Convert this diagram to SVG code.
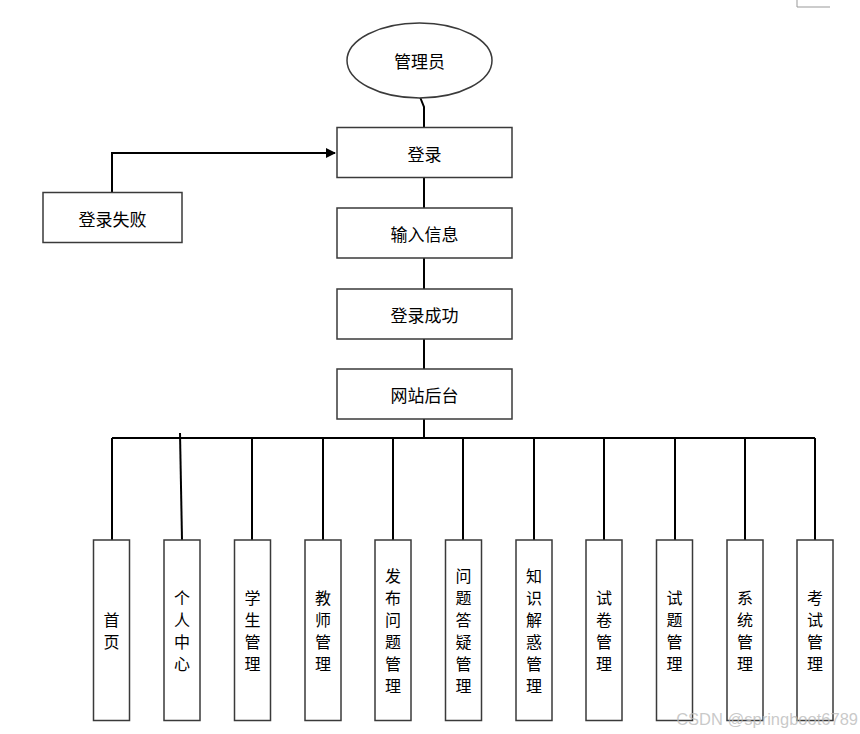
<svg xmlns="http://www.w3.org/2000/svg" width="860" height="734" viewBox="0 0 860 734">
<defs>
<style>
.box{fill:#fff;stroke:#3a3a3a;stroke-width:1.5}
.ln{fill:none;stroke:#000;stroke-width:2}
.t{font-family:"Noto Sans CJK SC","Microsoft YaHei",sans-serif;font-size:16px;fill:#000;text-anchor:middle;dominant-baseline:central}
.tl{font-size:17px}
</style>
<marker id="arr" markerWidth="10" markerHeight="10" refX="9" refY="5" orient="auto" markerUnits="userSpaceOnUse">
<path d="M0,0 L10,5 L0,10 z" fill="#000"/>
</marker>
</defs>
<rect width="860" height="734" fill="#fff"/>
<path d="M797,0 V7 H830" fill="none" stroke="#999" stroke-width="1"/>
<g id="connectors">
<path class="ln" d="M420,97 L424,107 V127"/>
<path class="ln" d="M112,192 V153 H335" marker-end="url(#arr)"/>
<path class="ln" d="M424,177 V208"/>
<path class="ln" d="M424,258 V289"/>
<path class="ln" d="M424,339 V369"/>
<path class="ln" d="M424,419 V438" stroke-width="3"/>
<path class="ln" d="M112,438 H815"/>
<path class="ln" d="M112,438 V540"/>
<path class="ln" d="M180,433 L182,540"/>
<path class="ln" d="M252,438 V540"/>
<path class="ln" d="M323,438 V540"/>
<path class="ln" d="M393,438 V540"/>
<path class="ln" d="M463,438 V540"/>
<path class="ln" d="M534,438 V540"/>
<path class="ln" d="M604,438 V540"/>
<path class="ln" d="M675,438 V540"/>
<path class="ln" d="M745,438 V540"/>
<path class="ln" d="M815,438 V540"/>
</g>
<g id="admin"><ellipse cx="419.5" cy="60.5" rx="72.5" ry="37.5" class="box"/><text class="t tl" x="419.5" y="60.5">管理员</text></g>
<g id="login"><rect class="box" x="337" y="127.5" width="175" height="50"/><text class="t tl" x="424.5" y="153">登录</text></g>
<g id="loginfail"><rect class="box" x="43" y="192.5" width="139" height="50"/><text class="t tl" x="112.5" y="218">登录失败</text></g>
<g id="input"><rect class="box" x="337" y="208" width="175" height="50"/><text class="t tl" x="424.5" y="233">输入信息</text></g>
<g id="success"><rect class="box" x="337" y="289" width="175" height="50"/><text class="t tl" x="424.5" y="314">登录成功</text></g>
<g id="backend"><rect class="box" x="337" y="369" width="175" height="50"/><text class="t tl" x="424.5" y="394">网站后台</text></g>
<g id="m1"><rect class="box" x="93.5" y="540" width="36" height="180.5"/><text class="t"><tspan x="111.5" y="619">首</tspan><tspan x="111.5" y="641">页</tspan></text></g>
<g id="m2"><rect class="box" x="164" y="540" width="36" height="180.5"/><text class="t"><tspan x="182" y="597">个</tspan><tspan x="182" y="619">人</tspan><tspan x="182" y="641">中</tspan><tspan x="182" y="663">心</tspan></text></g>
<g id="m3"><rect class="box" x="234.5" y="540" width="36" height="180.5"/><text class="t"><tspan x="252.5" y="597">学</tspan><tspan x="252.5" y="619">生</tspan><tspan x="252.5" y="641">管</tspan><tspan x="252.5" y="663">理</tspan></text></g>
<g id="m4"><rect class="box" x="305" y="540" width="36" height="180.5"/><text class="t"><tspan x="323" y="597">教</tspan><tspan x="323" y="619">师</tspan><tspan x="323" y="641">管</tspan><tspan x="323" y="663">理</tspan></text></g>
<g id="m5"><rect class="box" x="375" y="540" width="36" height="180.5"/><text class="t"><tspan x="393" y="575">发</tspan><tspan x="393" y="597">布</tspan><tspan x="393" y="619">问</tspan><tspan x="393" y="641">题</tspan><tspan x="393" y="663">管</tspan><tspan x="393" y="685">理</tspan></text></g>
<g id="m6"><rect class="box" x="445.5" y="540" width="36" height="180.5"/><text class="t"><tspan x="463.5" y="575">问</tspan><tspan x="463.5" y="597">题</tspan><tspan x="463.5" y="619">答</tspan><tspan x="463.5" y="641">疑</tspan><tspan x="463.5" y="663">管</tspan><tspan x="463.5" y="685">理</tspan></text></g>
<g id="m7"><rect class="box" x="516" y="540" width="36" height="180.5"/><text class="t"><tspan x="534" y="575">知</tspan><tspan x="534" y="597">识</tspan><tspan x="534" y="619">解</tspan><tspan x="534" y="641">惑</tspan><tspan x="534" y="663">管</tspan><tspan x="534" y="685">理</tspan></text></g>
<g id="m8"><rect class="box" x="586" y="540" width="36" height="180.5"/><text class="t"><tspan x="604" y="597">试</tspan><tspan x="604" y="619">卷</tspan><tspan x="604" y="641">管</tspan><tspan x="604" y="663">理</tspan></text></g>
<g id="m9"><rect class="box" x="656.5" y="540" width="36" height="180.5"/><text class="t"><tspan x="674.5" y="597">试</tspan><tspan x="674.5" y="619">题</tspan><tspan x="674.5" y="641">管</tspan><tspan x="674.5" y="663">理</tspan></text></g>
<g id="m10"><rect class="box" x="727" y="540" width="36" height="180.5"/><text class="t"><tspan x="745" y="597">系</tspan><tspan x="745" y="619">统</tspan><tspan x="745" y="641">管</tspan><tspan x="745" y="663">理</tspan></text></g>
<g id="m11"><rect class="box" x="797" y="540" width="36" height="180.5"/><text class="t"><tspan x="815" y="597">考</tspan><tspan x="815" y="619">试</tspan><tspan x="815" y="641">管</tspan><tspan x="815" y="663">理</tspan></text></g>
<text x="858" y="719" font-family="Liberation Sans, sans-serif" font-size="16.5" fill="#bbb" fill-opacity="0.8" text-anchor="end" dominant-baseline="central">CSDN @springboot6789</text>
</svg>
